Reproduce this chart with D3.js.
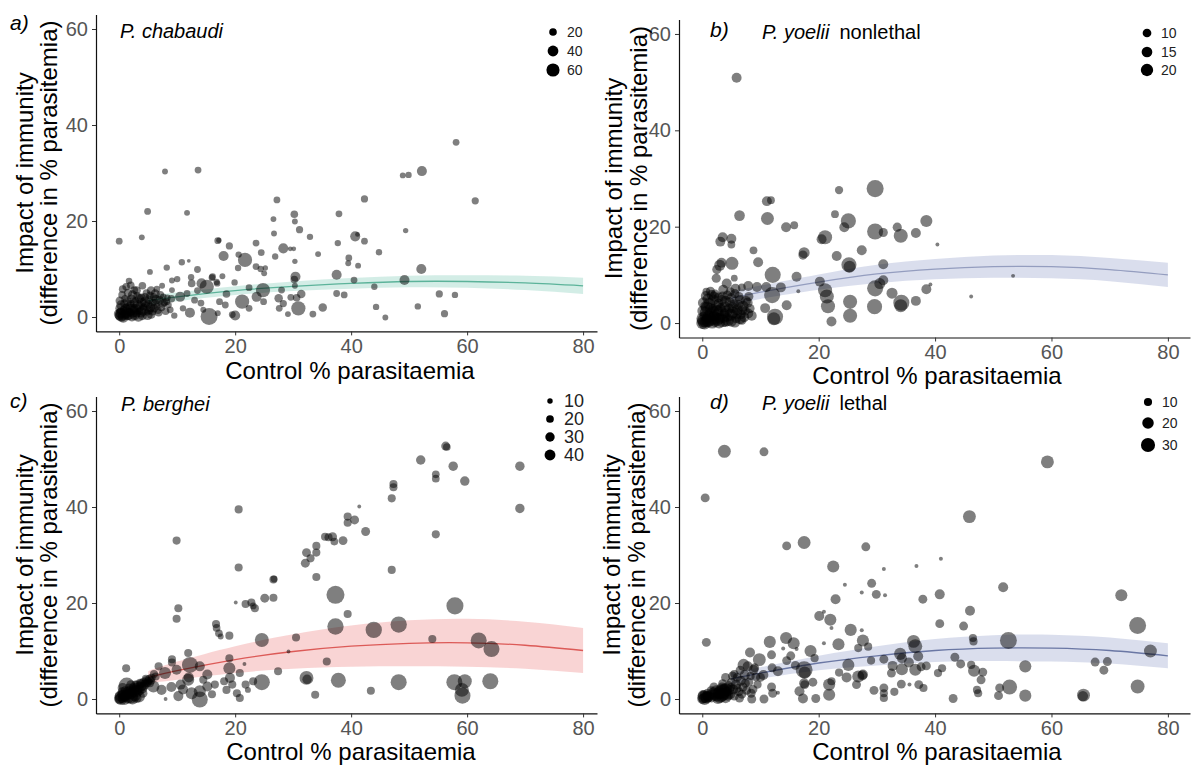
<!DOCTYPE html>
<html>
<head>
<meta charset="utf-8">
<script src="https://cdn.jsdelivr.net/npm/d3@7"></script>
<style>
  body { margin: 0; background: #fff; }
  svg { font-family: "Liberation Sans", Arial, sans-serif; }
</style>
</head>
<body>
<svg id="chart" width="1192" height="765"></svg>
<script>
// shared axis values
const xTicks = [0, 20, 40, 60, 80];
const yTicks = [0, 20, 40, 60];
// x positions where the fitted curve and its interval are given
const fitX = [5, 10, 20, 30, 40, 50, 60, 70, 80];

// points: [control % parasitaemia, impact of immunity, n]
const chabaudiPts = [
  [0.1,0.2,30],[0.3,0.8,40],[0.5,0.1,25],[0.8,1.5,20],[1.0,0.5,35],[1.2,2.2,15],[0.2,1.2,20],[1.5,0.3,30],
  [1.8,1.0,25],[2.0,2.8,20],[2.2,0.2,40],[2.5,1.8,30],[2.8,3.5,15],[3.0,0.8,25],[3.2,2.5,35],[3.5,1.2,20],
  [3.8,4.0,25],[4.0,0.3,30],[4.2,2.0,20],[4.5,3.2,40],[4.8,1.0,15],[5.0,2.6,25],[5.3,4.5,20],[5.5,0.6,30],
  [5.8,3.0,20],[6.0,1.8,25],[6.2,4.8,30],[6.5,2.2,15],[6.8,0.9,20],[7.0,3.5,25],[7.3,2.0,20],[7.6,4.2,15],
  [8.0,1.2,20],[1.0,3.8,20],[1.5,5.0,25],[2.3,4.6,30],[0.6,5.8,20],[1.7,7.5,15],[2.0,6.6,20],[3.0,5.5,25],
  [4.0,6.5,20],[5.5,5.5,25],[6.5,5.8,15],[0.3,2.5,30],[2.7,0.5,40],[3.5,3.8,30],[4.7,5.0,20],[5.2,1.5,30],
  [1.3,1.0,45],[0.4,0.4,60],[2.0,1.5,50],[3.8,1.0,40],[7.8,3.0,20],[8.5,2.5,15],[9.0,3.8,20],
  [0.0,0.6,40],[0.2,1.8,35],[0.7,0.0,45],[0.9,2.8,25],[1.1,1.6,40],[1.4,3.2,30],[1.6,0.6,50],[1.9,2.2,35],
  [2.1,3.8,25],[2.4,1.1,45],[2.6,2.9,30],[2.9,1.6,40],[3.1,4.4,20],[3.3,0.2,45],[3.6,2.2,35],[3.9,3.0,30],
  [4.1,1.4,40],[4.4,4.1,25],[4.6,2.3,30],[4.9,0.4,35],[5.1,3.6,25],[5.4,2.0,30],[5.7,1.2,25],[5.9,4.2,20],
  [6.2,2.8,25],[6.4,3.6,30],[6.7,1.4,20],[7.1,4.6,20],[7.5,2.8,25],[8.3,4.0,15],[1.2,6.3,20],[2.6,5.6,20],
  [0.1,3.4,25],[0.5,4.6,20],
  [0.0,15.8,16],[7.9,30.3,12],[13.6,30.6,16],[4.9,22.0,16],[11.7,21.7,12],[3.9,16.6,12],
  [27.2,24.4,16],[30.2,21.4,20],[30.3,19.9,12],[31.1,18.2,18],[26.6,20.4,12],[26.7,17.4,12],[32.9,16.7,14],
  [34.3,13.1,12],[17.0,15.9,16],[17.2,16.0,10],[19.0,14.8,18],[18.0,12.7,35],[20.6,13.0,14],[21.7,11.9,70],
  [23.6,15.4,16],[24.5,13.4,16],[26.9,12.6,14],[28.3,14.3,35],[29.5,14.2,8],[30.1,14.2,8],[30.3,11.6,10],
  [23.6,10.5,16],[24.4,10.0,14],[25.2,10.2,10],[10.8,11.4,14],[12.0,11.7,5],[8.2,10.3,14],[5.3,9.4,12],
  [12.4,8.3,14],[13.5,9.9,16],[9.1,7.6,12],[7.4,6.5,12],[15.1,6.3,70],[15.5,0.1,100],[14.2,7.0,35],
  [16.0,8.2,16],[16.8,7.3,14],[19.9,7.2,14],[21.2,3.2,70],[20.0,0.3,35],[17.0,0.8,12],[18.3,2.5,16],
  [17.3,3.2,16],[22.4,1.8,16],[23.7,4.2,35],[24.8,5.6,70],[24.9,3.2,16],[27.5,3.9,25],[27.6,1.8,16],
  [28.0,5.6,16],[29.6,4.1,16],[29.1,0.6,12],[30.9,1.8,70],[30.6,4.0,20],[31.4,4.8,25],[33.4,0.6,16],
  [35.1,2.0,25],[30.2,7.8,20],[30.4,8.4,35],[30.3,6.5,12],[22.4,6.1,16],[25.0,9.1,12],[28.3,2.8,18],
  [10.5,4.2,35],[8.2,3.2,16],[12.2,0.9,35],[14.1,2.9,16],[11.7,4.9,16],[8.8,1.5,16],[9.1,5.6,12],
  [10.0,7.9,14],[12.5,7.0,20],[16.1,8.4,16],[16.9,7.0,14],[13.0,3.5,16],[14.5,1.5,12],[19.5,0.5,16],
  [18.5,4.8,20],[17.8,8.5,12],[11.0,1.8,14],[9.5,0.3,14],[13.5,5.5,16],[20.5,10.2,14],
  [37.9,21.5,16],[37.7,15.4,14],[37.5,8.8,35],[37.5,4.9,16],[38.8,4.6,16],[39.5,11.2,12],[39.6,12.3,16],
  [40.7,16.8,35],[41.1,17.2,8],[42.3,15.8,16],[42.3,24.6,18],[41.2,10.7,12],[40.5,7.7,16],[44.0,6.3,14],
  [44.3,2.1,14],[44.8,13.5,14],[45.9,-0.1,12],[49.4,18.0,10],[48.9,29.5,12],[49.9,29.6,14],[52.2,30.4,35],
  [52.1,10.0,35],[49.2,7.7,35],[51.5,2.2,14],[55.2,4.8,18],[56.1,0.7,18],[57.9,4.6,14],[58.1,36.4,16],
  [61.4,24.2,18]
];
const chabaudiFit = [3.4, 4.2, 5.5, 6.4, 7.0, 7.4, 7.4, 7.1, 6.5];
const chabaudiLo  = [2.4, 3.3, 4.6, 5.4, 5.9, 6.2, 6.1, 5.6, 4.8];
const chabaudiHi  = [4.4, 5.1, 6.4, 7.4, 8.1, 8.6, 8.7, 8.6, 8.2];
const chabaudiBreaks = [20, 40, 60];

const yoeliiNlPts = [
  [0.0,0.0,19],[0.2,0.5,22],[0.5,0.2,16],[0.8,1.0,13],[0.3,1.5,11],[1.0,0.3,19],[1.3,2.0,13],[1.5,0.8,22],
  [1.8,3.0,11],[2.0,1.5,16],[2.2,0.2,13],[2.5,2.5,19],[2.8,4.0,13],[3.0,1.0,16],[3.2,3.2,11],[3.5,0.5,22],
  [3.8,2.0,13],[4.0,4.5,16],[4.3,1.2,11],[4.6,3.0,13],[5.0,0.4,16],[5.2,2.2,19],[5.5,4.0,11],[5.8,1.0,13],
  [6.0,2.8,16],[6.3,5.5,11],[6.6,1.8,13],[7.0,3.5,16],[7.4,2.5,11],[7.8,4.2,13],[8.2,3.0,11],[1.0,5.0,16],
  [1.6,5.8,13],[0.5,3.5,13],[2.2,6.0,11],[3.5,5.5,13],[4.8,6.5,11],[0.1,2.5,16],[1.2,4.0,19],[2.6,0.8,22],
  [4.0,0.2,13],[6.8,0.6,11],[8.5,1.5,13],[5.0,5.2,13],[0.7,6.5,8],
  [0.1,0.9,22],[0.4,0.0,22],[0.6,2.2,19],[0.9,0.6,22],[1.1,1.4,19],[1.4,3.0,16],[1.7,0.2,22],[1.9,2.3,19],
  [2.1,1.0,22],[2.4,3.6,16],[2.7,1.8,19],[2.9,0.1,19],[3.1,2.6,19],[3.4,4.8,13],[3.7,1.3,19],[3.9,3.4,16],
  [4.1,2.4,19],[4.4,0.6,19],[4.7,4.3,13],[4.9,1.7,19],[5.3,3.2,16],[5.6,0.2,16],[5.9,2.0,16],[6.2,3.8,13],
  [6.5,0.9,16],[6.9,2.7,13],[7.2,1.2,13],[7.5,4.6,13],[7.9,2.0,13],[0.2,4.2,16],[0.8,3.2,19],[1.9,4.8,16],
  [2.8,5.3,13],[4.3,5.8,11],[5.6,6.1,11],[1.4,6.6,11],[8.0,5.5,11],[0.6,5.6,13],
  [5.9,50.9,13],[29.7,27.9,38],[23.5,27.6,9],[11.1,25.3,13],[11.8,25.5,8],[6.4,22.3,15],[11.2,21.7,22],
  [22.8,22.6,8],[25.1,21.2,30],[24.4,19.9,13],[14.4,19.9,13],[15.8,20.3,8],[21.1,17.8,26],[20.5,17.4,13],
  [29.7,19.0,34],[31.1,18.8,11],[33.5,19.9,11],[34.1,18.1,26],[36.7,18.7,13],[38.5,21.2,19],[40.4,16.3,2],
  [27.4,15.1,13],[23.1,13.9,13],[17.5,14.6,16],[17.3,14.1,11],[8.8,15.1,8],[9.6,12.6,13],[12.1,10.0,34],
  [16.2,9.6,13],[25.2,12.1,30],[25.3,11.7,19],[31.1,12.2,13],[30.5,8.2,16],[31.1,8.9,13],[29.7,7.2,34],
  [20.2,8.6,13],[21.1,6.8,26],[21.4,5.5,26],[21.6,3.5,26],[22.2,0.3,13],[25.4,4.4,26],[25.4,1.5,26],
  [29.6,3.4,30],[32.6,6.2,16],[34.2,4.2,34],[34.1,3.6,22],[36.7,4.6,13],[38.5,7.0,13],[39.2,8.0,2],
  [46.2,5.5,2],[53.4,9.8,2],[12.0,5.8,34],[12.5,1.3,34],[12.3,0.9,22],[11.0,7.5,13],[14.5,3.7,13],
  [16.5,6.6,2],[13.5,7.4,13],[10.8,3.1,13],
  [3.1,16.9,13],[3.5,17.8,13],[5.0,17.5,13],[5.0,16.3,8],[3.0,12.0,16],[3.3,12.5,13],[5.1,12.4,22],
  [2.4,9.3,11],[4.2,8.2,13],[5.5,9.3,6],[6.8,7.4,8],[7.9,7.7,13],[9.4,7.5,13],[2.5,11.1,11],[3.6,6.9,13],
  [5.7,7.1,13],[2.0,5.5,13],[6.5,4.8,13]
];
const yoeliiNlFit = [5.1, 6.4, 8.5, 10.2, 11.2, 11.7, 11.7, 11.1, 10.0];
const yoeliiNlLo  = [3.6, 5.0, 6.9, 8.3, 9.1, 9.4, 9.3, 8.7, 7.5];
const yoeliiNlHi  = [6.6, 7.8, 10.1, 12.1, 13.3, 14.0, 14.1, 13.5, 12.5];
const yoeliiNlBreaks = [10, 15, 20];

const bergheiPts = [
  [0.0,0.0,34],[0.2,0.3,49],[0.5,0.1,27],[0.8,0.5,34],[1.0,0.2,22],[1.2,1.0,27],[1.3,2.8,87],[1.5,0.3,49],
  [1.8,1.2,34],[2.0,0.5,66],[2.2,1.6,27],[2.5,2.0,34],[2.7,0.8,49],[3.0,2.4,27],[3.2,1.5,34],[3.4,0.5,49],
  [3.6,2.8,22],[3.8,3.2,27],[4.0,2.2,34],[4.2,3.6,22],[4.5,3.0,27],[4.7,3.9,22],[4.9,3.4,22],[5.2,4.1,27],
  [5.5,3.8,22],[2.8,3.0,22],[1.0,1.8,22],[0.4,1.0,27],[3.5,1.8,34],[2.3,0.1,49],[6.0,5.2,22],[0.6,2.3,34],
  [4.1,1.2,27],
  [0.1,0.6,34],[0.3,0.0,49],[0.7,0.9,34],[0.9,0.0,49],[1.1,0.6,34],[1.4,1.6,27],[1.6,0.9,34],[1.9,1.9,27],
  [2.1,1.0,34],[2.4,2.5,22],[2.6,1.4,34],[2.9,1.9,27],[3.1,3.0,22],[3.3,2.0,27],[3.6,3.4,22],[3.9,2.6,27],
  [4.3,2.6,22],[4.4,3.3,22],[4.6,4.2,22],[5.0,3.7,22],[5.3,3.3,22],[5.6,4.4,22],[0.5,1.5,27],[1.7,2.4,22],
  [2.0,3.0,27],[3.0,0.2,34],
  [56.3,52.7,27],[56.5,52.5,20],[52.0,49.8,30],[57.6,48.5,30],[54.6,46.8,20],[54.6,45.9,20],[59.6,45.4,30],
  [69.1,48.5,30],[69.1,39.7,30],[47.3,44.8,22],[47.3,44.1,22],[47.0,41.8,22],[54.6,34.3,22],[47.0,26.9,22],
  [41.4,40.1,5],[39.4,38.0,22],[40.6,37.3,27],[39.4,36.7,22],[42.5,34.9,27],[35.5,33.8,22],[36.1,33.7,22],
  [36.8,33.8,27],[37.1,32.8,20],[38.6,33.0,27],[34.0,31.9,22],[32.3,30.5,27],[34.0,30.5,22],[33.0,29.3,22],
  [32.1,28.3,27],[34.0,25.4,22],[9.9,33.0,22],[10.2,18.9,22],[9.9,16.7,22],[20.6,39.5,22],[20.6,27.4,22],
  [26.6,24.9,22],[26.7,25.0,16],[26.6,21.1,22],[25.1,21.0,27],[20.1,20.1,5],[21.8,19.8,22],[22.8,20.1,22],
  [23.1,19.4,16],[23.4,18.9,22],[16.7,15.6,22],[16.8,14.8,20],[17.2,13.7,20],[17.5,13.0,12],[19.0,13.2,22],
  [39.4,17.7,22],
  [37.3,21.7,110],[37.3,15.1,90],[43.9,14.4,90],[48.2,15.5,90],[57.9,19.4,98],[54.0,12.5,22],[62.0,12.2,87],
  [64.2,10.4,87],[24.6,12.3,66],[30.5,12.8,22],[29.2,9.9,5],[35.8,7.8,22],[32.3,4.4,66],[32.4,4.1,30],
  [37.8,3.9,76],[48.2,3.5,87],[43.4,1.7,22],[33.8,0.9,22],[57.8,3.5,87],[59.6,3.7,66],[59.2,0.7,87],
  [59.1,1.9,66],[64.0,3.7,87],[24.6,3.5,87],
  [27.4,5.8,22],[21.6,7.3,5],[20.8,5.4,22],[19.0,6.4,49],[19.0,8.5,22],[19.1,4.4,34],[19.5,3.0,22],
  [20.3,1.2,22],[20.8,0.2,22],[21.8,3.0,22],[23.1,3.7,22],[22.2,1.9,12],[18.5,1.9,22],[18.1,3.7,22],
  [16.5,3.0,22],[15.2,5.1,34],[13.9,6.8,34],[12.2,7.1,87],[11.9,9.6,22],[9.1,8.3,22],[9.1,7.6,22],
  [9.9,6.1,34],[7.9,5.4,49],[7.3,1.9,34],[8.0,0.0,5],[10.2,0.6,34],[10.6,3.0,34],[11.9,4.0,49],
  [12.5,1.2,49],[13.9,-0.1,87],[13.9,1.6,49],[15.2,2.6,34],[5.9,2.6,49],[6.3,4.7,22],[6.8,6.8,22],
  [1.2,6.4,22],[12.0,4.5,34],[14.5,4.0,22],[16.0,1.0,22],[11.0,2.0,34],[9.0,2.5,34]
];
const bergheiFit = [4.5, 5.9, 8.2, 9.9, 11.0, 11.6, 11.7, 11.2, 10.1];
const bergheiLo  = [3.3, 4.0, 5.4, 6.3, 6.7, 6.8, 6.7, 6.3, 5.4];
const bergheiHi  = [5.8, 7.8, 11.0, 13.5, 15.3, 16.4, 16.7, 16.1, 14.8];
const bergheiBreaks = [10, 20, 30, 40];

const yoeliiLPts = [
  [0.0,0.0,15],[0.2,0.4,22],[0.5,0.1,12],[0.8,0.6,15],[1.0,0.2,12],[0.3,1.0,10],[1.3,0.8,15],[2.5,0.5,15],
  [2.8,1.2,22],[3.0,0.6,29],[3.2,1.8,22],[3.5,1.0,25],[3.8,2.2,15],[4.0,0.4,22],[4.2,1.5,15],[4.5,2.8,12],
  [4.8,1.0,15],[5.0,3.5,12],[5.3,2.0,15],[5.5,0.6,12],[5.8,3.0,15],[6.0,4.5,12],[6.3,1.5,12],[6.6,3.8,15],
  [7.0,2.5,12],[7.3,5.0,15],[7.6,1.8,12],[8.0,3.5,12],[8.3,4.8,10],[8.7,2.0,12],[9.0,6.5,12],[2.0,2.5,12],
  [1.5,1.8,10],[6.5,6.0,12],[7.8,6.8,15],[4.0,4.5,12],[5.5,5.2,10],[3.5,3.2,12],[9.5,3.0,10],[10.0,4.5,12],
  [0.1,0.8,15],[0.4,0.0,22],[0.7,0.3,22],[0.9,1.2,12],[1.1,0.5,15],[1.6,0.3,15],[2.2,0.9,22],[2.4,1.6,22],
  [2.7,0.2,22],[3.0,1.3,25],[3.3,0.8,29],[3.6,1.6,29],[3.9,1.1,22],[4.1,2.0,22],[4.4,0.7,15],[4.6,1.8,15],
  [2.0,1.2,22],[3.4,2.4,15],[4.9,2.4,12],[6.0,2.2,12],[6.8,1.0,12],[7.4,3.3,12],[8.4,1.2,12],[9.2,4.6,12],
  [5.2,4.8,12],
  [3.8,51.6,25],[10.6,51.5,12],[0.5,41.9,12],[59.3,49.4,25],[45.9,38.0,25],[17.5,32.6,25],[14.5,31.9,12],
  [28.1,31.7,12],[41.0,29.2,2.4],[36.8,27.7,2.4],[31.2,27.1,2.4],[22.5,27.6,22],[24.5,23.8,2.4],[29.1,24.1,12],
  [27.4,22.2,2.4],[29.9,21.8,12],[31.4,21.6,2.4],[22.9,20.8,15],[37.9,20.8,12],[40.8,21.8,15],[51.7,23.3,15],
  [72.0,21.6,22],[74.8,15.3,43],[77.0,10.0,25],[74.8,2.6,29],[67.5,7.7,12],[69.6,7.8,12],[69.0,6.0,12],
  [65.5,0.8,25],[65.4,0.6,16],[52.6,12.2,43],[55.5,6.8,22],[55.5,0.7,22],[52.8,2.5,34],[51.1,2.3,12],
  [50.9,0.7,12],[46.0,18.4,15],[44.9,15.2,12],[40.8,15.7,12],[46.5,12.7,10],[46.6,12.0,10],[43.4,8.7,12],
  [44.4,7.3,12],[46.2,7.1,10],[46.7,5.9,22],[48.2,5.6,12],[47.9,4.0,12],[47.2,1.9,10],[47.4,1.2,10],
  [43.1,0.1,12],[41.2,6.4,10],[40.5,5.4,10],[36.3,12.0,25],[36.6,11.0,29],[37.1,8.9,15],[37.6,6.7,12],
  [38.5,6.9,12],[34.3,6.2,22],[36.6,6.1,22],[34.0,9.4,22],[34.3,8.5,15],[35.5,7.6,15],[32.7,6.9,15],
  [32.5,5.4,12],[34.2,3.1,12],[35.6,3.0,2.4],[37.2,3.0,12],[38.0,2.3,10],[31.2,2.3,12],[31.2,1.2,10],
  [31.2,0.2,10],[29.5,1.8,12],[31.2,8.3,12],[28.5,10.9,10],[27.6,12.2,22],[26.8,10.6,10],[27.6,5.1,15],
  [27.5,4.9,15],[26.8,4.7,22],[26.5,3.0,12],[25.5,14.4,22],[27.4,14.3,2.4],[23.4,11.4,22],[22.0,16.5,22],
  [22.2,14.8,2.4],[20.1,17.3,15],[20.9,18.2,2.4],[20.9,11.6,2.4],[25.1,7.1,22],[24.8,4.5,15],[21.8,3.0,22],
  [21.8,0.9,22],[22.2,3.7,10],[19.5,0.1,12],[18.6,10.0,22],[19.3,8.5,10],[17.5,6.1,43],[17.6,5.5,22],
  [17.5,3.3,15],[17.6,3.0,12],[16.7,1.6,15],[17.3,0.1,15],[15.7,11.6,22],[14.4,12.7,22],[15.2,9.0,12],
  [16.2,10.4,2.4],[13.9,10.5,2.4],[11.6,11.9,22],[11.9,9.2,12],[11.9,2.5,12],[12.1,1.2,12],[13.0,1.3,2.4],
  [10.6,0.0,12],[8.5,0.0,12],[6.4,0.2,12],[9.8,8.2,25],[8.2,9.7,15],[7.1,7.1,22],[8.8,6.1,15],[0.7,11.8,12],
  [13.0,5.8,15],[12.0,6.5,12],[14.5,8.0,12],[10.5,5.0,15],[16.0,7.0,12],[19.0,3.5,12],[23.5,5.5,10],
  [29.0,8.0,10],[33.0,1.5,10]
];
const yoeliiLFit = [4.2, 5.4, 7.5, 9.0, 10.1, 10.6, 10.6, 10.1, 9.0];
const yoeliiLLo  = [3.0, 4.2, 6.0, 7.0, 7.7, 7.9, 7.8, 7.4, 6.4];
const yoeliiLHi  = [5.4, 6.6, 9.0, 11.0, 12.5, 13.3, 13.4, 12.8, 11.6];
const yoeliiLBreaks = [10, 20, 30];

const yTitle = ["Impact of immunity", "(difference in % parasitemia)"];
const xTitle = "Control % parasitaemia";

const panels = [
  { letter: "a)", species: "P. chabaudi", strain: "", pts: chabaudiPts, fit: chabaudiFit, lo: chabaudiLo, hi: chabaudiHi,
    breaks: chabaudiBreaks, rk: 0.85, line: "#5cb39a", band: "#6cc4ad",
    xDomain: [-4, 82.4], xRange: [96, 597], yRange: [331.4, 14.6],
    letterPos: [10, 30], speciesPos: [120, 38], yTitleX: [33, 57], xTitleY: 379, xTitleX: 350,
    legendX: 553, legendY: [32, 51, 70], legendFont: 14 },
  { letter: "b)", species: "P. yoelii", strain: "nonlethal", pts: yoeliiNlPts, fit: yoeliiNlFit, lo: yoeliiNlLo, hi: yoeliiNlHi,
    breaks: yoeliiNlBreaks, rk: 1.38, line: "#949dbf", band: "#8593c2",
    xDomain: [-4, 83.8], xRange: [679, 1190], yRange: [337.5, 19.5],
    letterPos: [710, 37], speciesPos: [762, 39], yTitleX: [622, 647], xTitleY: 384, xTitleX: 937,
    legendX: 1147, legendY: [33, 52, 70], legendFont: 14 },
  { letter: "c)", species: "P. berghei", strain: "", pts: bergheiPts, fit: bergheiFit, lo: bergheiLo, hi: bergheiHi,
    breaks: bergheiBreaks, rk: 0.86, line: "#dc5a57", band: "#ec6f70",
    xDomain: [-4, 82.4], xRange: [96, 597], yRange: [713.4, 396.6],
    letterPos: [10, 408], speciesPos: [121, 411], yTitleX: [33, 57], xTitleY: 760, xTitleX: 351,
    legendX: 550, legendY: [401, 419, 437, 455], legendFont: 18 },
  { letter: "d)", species: "P. yoelii", strain: "lethal", pts: yoeliiLPts, fit: yoeliiLFit, lo: yoeliiLLo, hi: yoeliiLHi,
    breaks: yoeliiLBreaks, rk: 1.29, line: "#6a77a4", band: "#8593c2",
    xDomain: [-4, 83.8], xRange: [679, 1190], yRange: [713.4, 396.6],
    letterPos: [710, 409], speciesPos: [762, 410], yTitleX: [620, 645], xTitleY: 760, xTitleX: 937,
    legendX: 1148, legendY: [402, 423, 445], legendFont: 14 }
];

function drawPanel(svg, p) {
  const g = svg.append("g");
  const scX = d3.scaleLinear().domain(p.xDomain).range(p.xRange);
  const scY = d3.scaleLinear().domain([-3, 63]).range(p.yRange);
  // point radius grows with the square root of n
  const scR = d3.scaleSqrt().domain([0, 100]).range([0, p.rk * 10]);

  const curve = fitX.map((x, i) => ({ x: x, y: p.fit[i], lo: p.lo[i], hi: p.hi[i] }));

  // confidence band and fitted line
  g.append("path")
    .datum(curve)
    .attr("d", d3.area().x(d => scX(d.x)).y0(d => scY(d.lo)).y1(d => scY(d.hi)).curve(d3.curveNatural))
    .attr("fill", p.band)
    .attr("fill-opacity", 0.3);
  g.append("path")
    .datum(curve)
    .attr("d", d3.line().x(d => scX(d.x)).y(d => scY(d.y)).curve(d3.curveNatural))
    .attr("fill", "none")
    .attr("stroke", p.line)
    .attr("stroke-width", 1.3);

  // points, half transparent
  g.append("g").selectAll("circle")
    .data(p.pts)
    .join("circle")
    .attr("cx", d => scX(d[0]))
    .attr("cy", d => scY(d[1]))
    .attr("r", d => scR(d[2]))
    .attr("fill", "#000")
    .attr("fill-opacity", 0.5);

  // axes
  const axX = g.append("g")
    .attr("transform", `translate(0,${p.yRange[0]})`)
    .call(d3.axisBottom(scX).tickValues(xTicks).tickSize(4).tickSizeOuter(0).tickPadding(3));
  const axY = g.append("g")
    .attr("transform", `translate(${p.xRange[0]},0)`)
    .call(d3.axisLeft(scY).tickValues(yTicks).tickSize(4).tickSizeOuter(0).tickPadding(4));
  [axX, axY].forEach(ax => {
    ax.select(".domain").attr("stroke", "#111").attr("stroke-width", 1.2);
    ax.selectAll(".tick line").attr("stroke", "#333").attr("stroke-width", 1);
    ax.selectAll(".tick text")
      .attr("fill", "#555")
      .style("font-size", "20px")
      .style("font-family", "'Liberation Sans', Arial, sans-serif");
  });

  // axis titles
  g.append("text")
    .attr("x", p.xTitleX)
    .attr("y", p.xTitleY)
    .attr("text-anchor", "middle")
    .style("font-size", "24px")
    .text(xTitle);
  const cy = (p.yRange[0] + p.yRange[1]) / 2;
  yTitle.forEach((t, i) => {
    g.append("text")
      .attr("transform", `translate(${p.yTitleX[i]},${cy}) rotate(-90)`)
      .attr("text-anchor", "middle")
      .style("font-size", "24px")
      .text(t);
  });

  // panel letter and species name
  g.append("text")
    .attr("x", p.letterPos[0])
    .attr("y", p.letterPos[1])
    .style("font-size", "21px")
    .style("font-style", "italic")
    .text(p.letter);
  const sp = g.append("text")
    .attr("x", p.speciesPos[0])
    .attr("y", p.speciesPos[1])
    .style("font-size", "20px");
  sp.append("tspan").style("font-style", "italic").text(p.species);
  if (p.strain) sp.append("tspan").attr("dx", 10).text(p.strain);

  // size legend
  const leg = g.append("g");
  leg.selectAll("circle")
    .data(p.breaks)
    .join("circle")
    .attr("cx", p.legendX)
    .attr("cy", (d, i) => p.legendY[i])
    .attr("r", d => scR(d))
    .attr("fill", "#000");
  leg.selectAll("text")
    .data(p.breaks)
    .join("text")
    .attr("x", p.legendX + 14)
    .attr("y", (d, i) => p.legendY[i])
    .attr("dominant-baseline", "central")
    .attr("fill", "#222")
    .style("font-size", p.legendFont + "px")
    .text(d => d);
}

const svg = d3.select("#chart");
panels.forEach(p => drawPanel(svg, p));
</script>
</body>
</html>
